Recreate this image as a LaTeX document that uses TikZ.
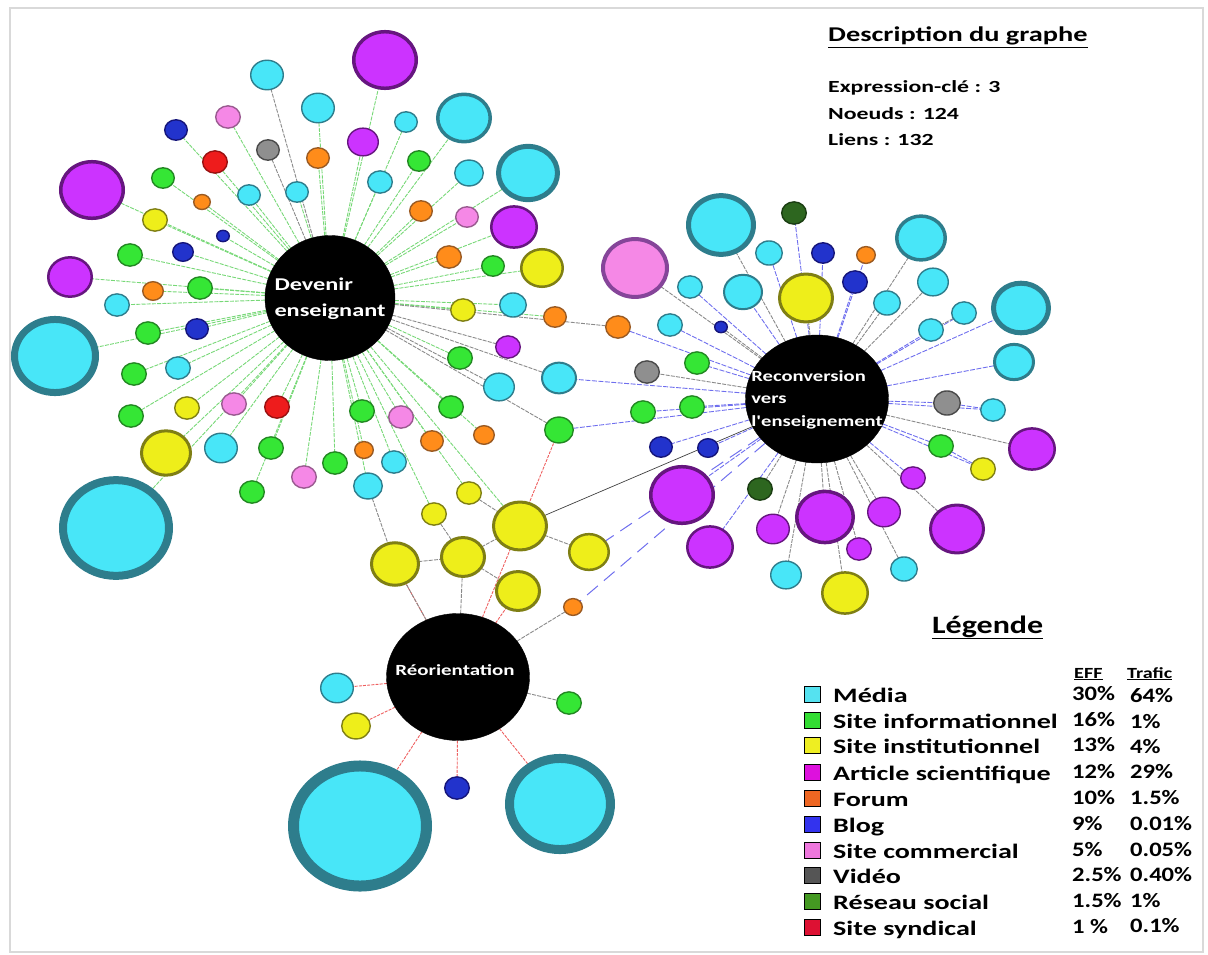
\documentclass[tikz,border=0pt]{standalone}
\usepackage{fontspec}
\usepackage{graphicx}
\setmainfont{Carlito}
\usetikzlibrary{shapes.geometric,backgrounds}
\definecolor{cyF}{HTML}{48E6F8}\definecolor{cyD}{HTML}{2E7D8C}
\definecolor{grF}{HTML}{35E635}\definecolor{grD}{HTML}{228822}
\definecolor{yeF}{HTML}{EEEE1A}\definecolor{yeD}{HTML}{7F7F14}
\definecolor{puF}{HTML}{CC33FF}\definecolor{puD}{HTML}{66167F}
\definecolor{orF}{HTML}{FF8C1A}\definecolor{orD}{HTML}{9A5A22}
\definecolor{blF}{HTML}{2233CC}\definecolor{blD}{HTML}{15157A}
\definecolor{pkF}{HTML}{F588E6}\definecolor{pkD}{HTML}{9A5A90}
\definecolor{gyF}{HTML}{8F8F8F}\definecolor{gyD}{HTML}{4A4A4A}
\definecolor{dgF}{HTML}{2D661F}\definecolor{dgD}{HTML}{1A3D12}
\definecolor{rdF}{HTML}{EE1C1C}\definecolor{rdD}{HTML}{991111}
\definecolor{lgE}{HTML}{77D877}\definecolor{blE}{HTML}{6F6FEE}
\definecolor{rdE}{HTML}{EE6060}\definecolor{gyE}{HTML}{8A8A8A}
\definecolor{kcy}{HTML}{55E2F0}\definecolor{kgr}{HTML}{33DD33}
\definecolor{kye}{HTML}{EEEE22}\definecolor{kpu}{HTML}{DD11DD}
\definecolor{kor}{HTML}{EE6622}\definecolor{kbl}{HTML}{3333EE}
\definecolor{kpk}{HTML}{EE77DD}\definecolor{kgy}{HTML}{555555}
\definecolor{kdg}{HTML}{449922}\definecolor{krd}{HTML}{DD1133}
\newcommand{\hs}[2]{\scalebox{#1}[1]{#2}}
\newcommand{\bub}[5]{\node[bub,#1,minimum width={2*#5pt-\pgflinewidth},minimum height={1.82*#5pt-\pgflinewidth}] (#2) at (#3,#4) {};}
\begin{document}
\begin{tikzpicture}[x=1pt,y=-1pt,
  bub/.style={ellipse,inner sep=0pt,outer sep=0pt,line width=1.4pt},
  cy/.style={fill=cyF,draw=cyD}, gr/.style={fill=grF,draw=grD},
  ye/.style={fill=yeF,draw=yeD}, pu/.style={fill=puF,draw=puD},
  or/.style={fill=orF,draw=orD}, bl/.style={fill=blF,draw=blD},
  pk/.style={fill=pkF,draw=pkD}, gy/.style={fill=gyF,draw=gyD},
  dg/.style={fill=dgF,draw=dgD}, rd/.style={fill=rdF,draw=rdD},
  pkB/.style={fill=pkF,draw=puD!80},
  hub/.style={ellipse,fill=black,draw=black,inner sep=0pt,outer sep=0pt},
  hlab/.style={text=white,font=\bfseries},
  ge/.style={draw=lgE,line width=0.9pt,dash pattern=on 4pt off 1.2pt},
  be/.style={draw=blE,line width=0.9pt,dash pattern=on 5pt off 1.5pt},
  bel/.style={draw=blE,line width=1pt,dash pattern=on 14pt off 8pt},
  re/.style={draw=rdE,line width=0.9pt,dash pattern=on 3pt off 1.2pt},
  ke/.style={draw=gyE,line width=0.9pt,dash pattern=on 4pt off 1.2pt},
  ks/.style={draw=black!75,line width=0.7pt},
  lsq/.style={draw=black,line width=0.6pt,minimum size=16pt,inner sep=0pt},
  ltx/.style={anchor=base west,inner sep=0pt,font=\fontsize{20.5}{24}\selectfont\bfseries},
  lnum/.style={anchor=base west,inner sep=0pt,font=\fontsize{20.5}{24}\selectfont\bfseries},
  dtx/.style={anchor=base west,inner sep=0pt,font=\fontsize{17}{20}\selectfont\bfseries}]
\useasboundingbox (0,0) rectangle (1208,955);
\draw[gray!30,line width=2pt] (10,8) rectangle (1203,952);

% hubs
\node[hub,minimum width=130pt,minimum height=125pt,
  label={[hlab]center:\fontsize{18}{26}\selectfont\hs{1.35}{\begin{tabular}{@{}l@{}}Devenir\\enseignant\end{tabular}}}] (D) at (330,298) {};
\node[hub,minimum width=143pt,minimum height=128pt,
  label={[hlab]center:\fontsize{15.5}{22.5}\selectfont\hs{1.33}{\begin{tabular}{@{}l@{}}Reconversion\\vers\\l\textquotesingle enseignement\end{tabular}}}] (R) at (817,399) {};
\node[hub,minimum width=143pt,minimum height=127pt,
  label={[hlab,yshift=7pt,xshift=-3pt]center:\fontsize{15.5}{20}\selectfont\hs{1.35}{Réorientation}}] (O) at (458,677) {};

% Devenir enseignant cluster
\bub{cy}{d1}{267}{75}{17}
\bub{cy}{d2}{318}{108}{17}
\bub{pk}{d3}{228}{117}{13}
\bub{bl}{d4}{176}{130}{12}
\bub{gy}{d5}{268}{150}{12}
\bub{or}{d6}{318}{158}{12}
\bub{rd}{d7}{215}{162}{13}
\bub{gr}{d8}{163}{178}{12}
\bub{cy}{d9}{249}{195}{12}
\bub{cy}{d10}{297}{192}{12}
\bub{or}{d11}{202}{202}{9}
\bub{pu,line width=3.5pt}{d12}{92}{190}{33}
\bub{ye}{d13}{155}{220}{13}
\bub{bl}{d14}{223}{236}{7}
\bub{bl}{d15}{183}{252}{11}
\bub{gr}{d16}{130}{255}{13}
\bub{pu,line width=2.5pt}{d17}{70}{277}{23}
\bub{or}{d18}{153}{291}{11}
\bub{gr}{d19}{200}{288}{13}
\bub{pu,line width=3.5pt}{d20}{385}{60}{33}
\bub{pu}{d21}{363}{142}{16}
\bub{cy}{d22}{406}{122}{12}
\bub{cy,line width=3.5pt}{d23}{464}{118}{28}
\bub{gr}{d24}{419}{161}{12}
\bub{cy}{d25}{380}{182}{13}
\bub{cy}{d26}{469}{173}{15}
\bub{cy,line width=5pt}{d27}{528}{173}{32}
\bub{or}{d28}{421}{211}{12}
\bub{pk}{d29}{467}{217}{12}
\bub{pu,line width=2.5pt}{d30}{514}{227}{24}
\bub{or}{d31}{449}{257}{13}
\bub{gr}{d32}{493}{266}{12}
\bub{ye,line width=2.5pt}{d33}{542}{268}{22}
\bub{ye}{d34}{463}{310}{13}
\bub{cy}{d35}{513}{305}{14}
\bub{or}{d36}{555}{317}{12}
\bub{cy}{d37}{117}{305}{13}
\bub{cy,line width=7pt}{d38}{55}{356}{44}
\bub{gr}{d39}{148}{333}{13}
\bub{bl}{d40}{197}{329}{12}
\bub{gr}{d41}{134}{374}{13}
\bub{cy}{d42}{178}{368}{13}
\bub{gr}{d43}{131}{416}{13}
\bub{ye}{d44}{187}{408}{13}
\bub{pk}{d45}{234}{404}{13}
\bub{rd}{d46}{277}{407}{13}
\bub{ye,line width=3pt}{d47}{166}{453}{26}
\bub{cy}{d48}{221}{448}{17}
\bub{gr}{d49}{271}{448}{13}
\bub{gr}{d50}{252}{492}{13}
\bub{pk}{d51}{304}{477}{13}
\bub{cy,line width=8pt}{d52}{116}{528}{57}
\bub{gr}{d53}{335}{463}{13}
\bub{or}{d54}{618}{327}{13}
\bub{pu}{d55}{508}{347}{13}
\bub{gr}{d56}{460}{358}{13}
\bub{cy,line width=2pt}{d57}{559}{378}{18}
\bub{cy}{d58}{499}{387}{16}
\bub{gr}{d59}{362}{411}{13}
\bub{pk}{d60}{401}{417}{13}
\bub{gr}{d61}{451}{407}{13}
\bub{or}{d62}{432}{441}{12}
\bub{or}{d63}{484}{435}{11}
\bub{gr}{d64}{559}{430}{15}
\bub{or}{d65}{364}{450}{10}
\bub{cy}{d66}{394}{462}{13}
\bub{cy}{d67}{368}{486}{15}
\bub{ye}{d68}{469}{493}{13}
\bub{ye}{d69}{434}{514}{13}
\bub{ye,line width=3pt}{d70}{520}{526}{28}
\bub{ye,line width=3pt}{d71}{395}{564}{25}
\bub{ye,line width=3pt}{d72}{463}{557}{23}
\bub{ye,line width=2.5pt}{d73}{589}{552}{21}
\bub{ye,line width=3pt}{d74}{518}{591}{23}
\bub{or}{d75}{573}{607}{10}

% Reconversion cluster
\bub{cy,line width=5pt}{r1}{721}{225}{35}
\bub{dg}{r2}{794}{213}{13}
\bub{pkB,line width=4pt}{r3}{635}{268}{34}
\bub{cy}{r4}{769}{253}{14}
\bub{bl}{r5}{823}{253}{12}
\bub{or}{r6}{866}{255}{10}
\bub{cy}{r7}{690}{287}{13}
\bub{cy,line width=2pt}{r8}{743}{292}{20}
\bub{ye,line width=3pt}{r9}{806}{298}{28}
\bub{bl}{r10}{855}{282}{13}
\bub{cy}{r11}{887}{303}{14}
\bub{cy}{r12}{670}{325}{13}
\bub{bl}{r13}{721}{327}{7}
\bub{gr}{r14}{697}{363}{13}
\bub{gy}{r15}{647}{372}{13}
\bub{gr}{r16}{643}{412}{13}
\bub{gr}{r17}{692}{407}{13}
\bub{bl}{r18}{661}{447}{12}
\bub{bl}{r19}{708}{448}{11}
\bub{cy,line width=3.5pt}{r20}{921}{238}{26}
\bub{cy}{r21}{933}{282}{16}
\bub{cy}{r22}{964}{313}{13}
\bub{cy}{r23}{931}{330}{13}
\bub{cy,line width=5pt}{r24}{1021}{308}{30}
\bub{cy,line width=3pt}{r25}{1014}{362}{21}
\bub{gy}{r26}{947}{403}{14}
\bub{cy}{r27}{993}{410}{13}
\bub{pu,line width=2.5pt}{r28}{1032}{449}{24}
\bub{gr}{r29}{941}{446}{13}
\bub{ye}{r30}{983}{469}{13}
\bub{pu}{r31}{913}{478}{13}
\bub{dg}{r32}{760}{489}{13}
\bub{pu,line width=3.5pt}{r33}{682}{495}{33}
\bub{pu,line width=2.5pt}{r34}{710}{547}{24}
\bub{pu}{r35}{773}{529}{17}
\bub{pu,line width=3.5pt}{r36}{825}{517}{30}
\bub{pu}{r37}{884}{512}{17}
\bub{pu,line width=3pt}{r38}{957}{529}{28}
\bub{pu}{r39}{859}{549}{13}
\bub{cy}{r40}{786}{575}{16}
\bub{ye,line width=2.5pt}{r41}{845}{593}{24}
\bub{cy}{r42}{904}{569}{14}

% Reorientation cluster
\bub{cy}{o1}{337}{688}{17}
\bub{ye}{o2}{356}{726}{15}
\bub{gr}{o3}{569}{703}{13}
\bub{bl}{o4}{457}{788}{13}
\bub{cy,line width=11pt}{o5}{360}{826}{72}
\bub{cy,line width=9pt}{o6}{560}{804}{55}

\begin{pgfonlayer}{background}
\foreach \n in {d2,d3,d4,d6,d7,d8,d9,d10,d11,d12,d13,d14,d15,d16,d17,d18,d19,d20,d21,d22,d23,d24,d25,d26,d27,d28,d29,d30,d31,d32,d33,d34,d35,d36,d37,d38,d39,d40,d41,d42,d43,d44,d45,d46,d47,d48,d49,d50,d51,d52,d53,d56,d59,d60,d61,d62,d63,d65,d66,d67,d68,d69,d70}
  \draw[ge] (D) -- (\n);
\foreach \n in {d1,d5,d54,d55,d57,d58,d64}
  \draw[ke] (D) -- (\n);
\foreach \n in {r2,r4,r5,r6,r7,r8,r10,r12,r14,r16,r17,r18,r19,r22,r23,r24,r25,r26,r27,r29,r30,r31,r33,r34,d54,d57,d64}
  \draw[be] (R) -- (\n);
\foreach \n in {r1,r3,r9,r11,r13,r15,r20,r21,r28,r32,r35,r36,r37,r38,r39,r40,r41,r42}
  \draw[ke] (R) -- (\n);
\draw[ks] (R) -- (d70);
\draw[bel] (R) -- (d73);
\draw[bel] (R) -- (d75);
\foreach \n in {o1,o2,o4,o5,o6,d71,d64,d74}
  \draw[re] (O) -- (\n);
\foreach \n in {o3,d75,d72,d71}
  \draw[ke] (O) -- (\n);
\draw[ke] (d67) -- (d71);
\draw[ke] (d71) -- (d72);
\draw[ke] (d72) -- (d70);
\draw[ke] (d70) -- (d73);
\draw[ke] (d72) -- (d74);
\draw[ke] (d69) -- (d72);
\draw[ke] (d68) -- (d70);
\draw[ke] (r22) -- (r23);
\draw[be] (r26) -- (r27);
\draw[be] (r29) -- (r30);
\end{pgfonlayer}

% description
\node[anchor=base west,inner sep=0pt,font=\fontsize{21}{24}\selectfont\bfseries] (t0) at (828,42) {\hs{1.35}{\underline{Description du graphe}}};
\node[dtx] (t1) at (828,93) {\hs{1.4}{Expression-clé : 3}};
\node[dtx] (t2) at (828,120) {\hs{1.4}{Noeuds : 124}};
\node[dtx] (t3) at (828,146) {\hs{1.4}{Liens : 132}};

% legend
\node[anchor=base west,inner sep=0pt,font=\fontsize{25}{28}\selectfont\bfseries] (lg) at (932,633) {\hs{1.28}{\underline{Légende}}};
\node[anchor=base west,inner sep=0pt,font=\fontsize{15.5}{17}\selectfont\bfseries] (hE) at (1074,678) {\hs{1.3}{\underline{EFF}}};
\node[anchor=base west,inner sep=0pt,font=\fontsize{15.5}{17}\selectfont\bfseries] (hT) at (1127,678) {\hs{1.3}{\underline{Trafic}}};

\node[lsq,fill=kcy] (k1) at (812,694) {};
\node[lsq,fill=kgr] (k2) at (812,720) {};
\node[lsq,fill=kye] (k3) at (812,745) {};
\node[lsq,fill=kpu] (k4) at (812,772) {};
\node[lsq,fill=kor] (k5) at (812,798) {};
\node[lsq,fill=kbl] (k6) at (812,824) {};
\node[lsq,fill=kpk] (k7) at (812,850) {};
\node[lsq,fill=kgy] (k8) at (812,875) {};
\node[lsq,fill=kdg] (k9) at (812,901) {};
\node[lsq,fill=krd] (k10) at (812,927) {};

\node[ltx] (l1) at (833,702) {\hs{1.37}{Média}};
\node[ltx] (l2) at (833,728) {\hs{1.37}{Site informationnel}};
\node[ltx] (l3) at (833,753) {\hs{1.37}{Site institutionnel}};
\node[ltx] (l4) at (833,780) {\hs{1.37}{Article scientifique}};
\node[ltx] (l5) at (833,806) {\hs{1.37}{Forum}};
\node[ltx] (l6) at (833,832) {\hs{1.37}{Blog}};
\node[ltx] (l7) at (833,858) {\hs{1.37}{Site commercial}};
\node[ltx] (l8) at (833,883) {\hs{1.37}{Vidéo}};
\node[ltx] (l9) at (833,909) {\hs{1.37}{Réseau social}};
\node[ltx] (l10) at (833,935) {\hs{1.37}{Site syndical}};

\node[lnum] (e1) at (1072,700) {\hs{1.2}{30\%}};
\node[lnum] (e2) at (1072,726) {\hs{1.2}{16\%}};
\node[lnum] (e3) at (1072,751) {\hs{1.2}{13\%}};
\node[lnum] (e4) at (1072,778) {\hs{1.2}{12\%}};
\node[lnum] (e5) at (1072,804) {\hs{1.2}{10\%}};
\node[lnum] (e6) at (1072,830) {\hs{1.2}{9\%}};
\node[lnum] (e7) at (1072,856) {\hs{1.2}{5\%}};
\node[lnum] (e8) at (1072,881) {\hs{1.2}{2.5\%}};
\node[lnum] (e9) at (1072,907) {\hs{1.2}{1.5\%}};
\node[lnum] (e10) at (1072,933) {\hs{1.2}{1 \%}};

\node[lnum] (f1) at (1130,702) {\hs{1.2}{64\%}};
\node[lnum] (f2) at (1130,728) {\hs{1.2}{1\%}};
\node[lnum] (f3) at (1130,753) {\hs{1.2}{4\%}};
\node[lnum] (f4) at (1130,778) {\hs{1.2}{29\%}};
\node[lnum] (f5) at (1130,804) {\hs{1.2}{1.5\%}};
\node[lnum] (f6) at (1130,830) {\hs{1.2}{0.01\%}};
\node[lnum] (f7) at (1130,856) {\hs{1.2}{0.05\%}};
\node[lnum] (f8) at (1130,881) {\hs{1.2}{0.40\%}};
\node[lnum] (f9) at (1130,907) {\hs{1.2}{1\%}};
\node[lnum] (f10) at (1130,932) {\hs{1.2}{0.1\%}};
\end{tikzpicture}
\end{document}
